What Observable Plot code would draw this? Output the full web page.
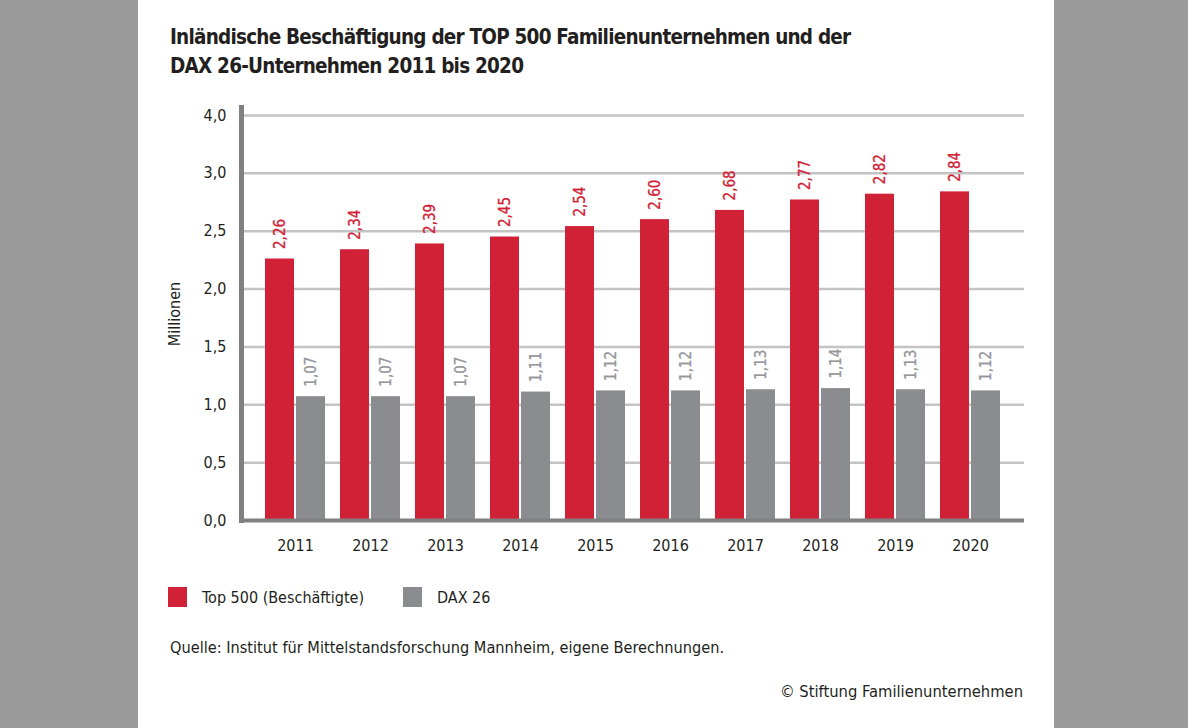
<!DOCTYPE html>
<html><head><meta charset="utf-8">
<script src="https://cdn.jsdelivr.net/npm/d3@7"></script>
<script src="https://cdn.jsdelivr.net/npm/@observablehq/plot@0.6"></script>
<style>
html,body{margin:0;padding:0;}
body{width:1188px;height:728px;background:#9b9b9b;overflow:hidden;position:relative;font-family:"DejaVu Sans Condensed",sans-serif;color:#231f20;}
#panel{position:absolute;left:138px;top:0;width:916px;height:728px;background:#fff;}
#title{position:absolute;left:32px;top:23px;font-weight:bold;font-size:20.5px;letter-spacing:-0.78px;line-height:29px;color:#231f20;}
#chart{position:absolute;left:0;top:95px;}
#legend{position:absolute;left:30px;top:587px;font-size:16px;display:flex;align-items:center;}
#legend .sw{width:19px;height:20px;display:inline-block;margin-right:15px;}
#legend .it{display:flex;align-items:center;margin-right:39px;}
#source{position:absolute;left:32px;top:638px;font-size:16.2px;}
#copy{position:absolute;right:31px;top:682px;font-size:16.4px;}
</style></head>
<body>
<div id="panel">
<div id="title">Inländische Beschäftigung der TOP 500 Familienunternehmen und der<br>DAX 26-Unternehmen 2011 bis 2020</div>
<div id="chart"></div>
<div id="legend"></div>
<div id="source">Quelle: Institut für Mittelstandsforschung Mannheim, eigene Berechnungen.</div>
<div id="copy">© Stiftung Familienunternehmen</div>
</div>
<script>
const years = ["2011","2012","2013","2014","2015","2016","2017","2018","2019","2020"];
const top500 = [2.26, 2.34, 2.39, 2.45, 2.54, 2.60, 2.68, 2.77, 2.82, 2.84];
const dax26 = [1.07, 1.07, 1.07, 1.11, 1.12, 1.12, 1.13, 1.14, 1.13, 1.12];
const seriesNames = ["Top 500 (Beschäftigte)", "DAX 26"];
const seriesColors = ["#d12136", "#8b8c90"];
const labelColors = ["#d12136", "#95969a"];
const yTicks = [0, 0.5, 1, 1.5, 2, 2.5, 3, 3.5];
const yTickLabels = ["0,0","0,5","1,0","1,5","2,0","2,5","3,0","4,0"];

const fmt = v => v.toFixed(2).replace(".", ",");
const redData = years.map((y, i) => ({year: y, value: top500[i]}));
const grayData = years.map((y, i) => ({year: y, value: dax26[i]}));

const chart = Plot.plot({
  width: 916,
  height: 465,
  marginLeft: 103,
  marginRight: 30,
  marginTop: 12,
  marginBottom: 40,
  style: {fontFamily: '"DejaVu Sans Condensed",sans-serif', fontSize: "16px", color: "#231f20", background: "transparent"},
  x: {domain: years, paddingInner: 0.2, paddingOuter: 0.3},
  y: {domain: [0, 3.5], insetTop: 8},
  marks: [
    Plot.gridY(yTicks.slice(1), {stroke: "#c3c3c3", strokeOpacity: 1, strokeWidth: 2.5}),
    Plot.barY(redData, {x: "year", y: "value", fill: seriesColors[0], insetRight: 31}),
    Plot.barY(grayData, {x: "year", y: "value", fill: seriesColors[1], insetLeft: 31}),
    Plot.text(redData, {x: "year", y: "value", text: d => fmt(d.value), rotate: -90, textAnchor: "start", lineAnchor: "middle", dx: -15.5, dy: -10, fill: labelColors[0], fontSize: 15, stroke: labelColors[0], strokeWidth: 0.3}),
    Plot.text(grayData, {x: "year", y: "value", text: d => fmt(d.value), rotate: -90, textAnchor: "start", lineAnchor: "middle", dx: 15.5, dy: -10, fill: labelColors[1], fontSize: 15, stroke: labelColors[1], strokeWidth: 0.3}),
    Plot.ruleY([0], {stroke: "#808080", strokeWidth: 4}),
    Plot.frame({anchor: "left", stroke: "#808080", strokeWidth: 5}),
    Plot.axisY(yTicks, {tickSize: 0, tickPadding: 15, tickFormat: d => yTickLabels[yTicks.indexOf(d)], label: "Millionen", labelAnchor: "center", labelArrow: false, labelOffset: 73}),
    Plot.axisX({tickSize: 0, tickPadding: 19, label: null})
  ]
});
document.getElementById("chart").appendChild(chart);

const legend = document.getElementById("legend");
seriesNames.forEach((n, i) => {
  const it = document.createElement("span");
  it.className = "it";
  const sw = document.createElement("span");
  sw.className = "sw";
  sw.style.background = seriesColors[i];
  it.appendChild(sw);
  it.appendChild(document.createTextNode(n));
  legend.appendChild(it);
});
</script>
</body></html>
